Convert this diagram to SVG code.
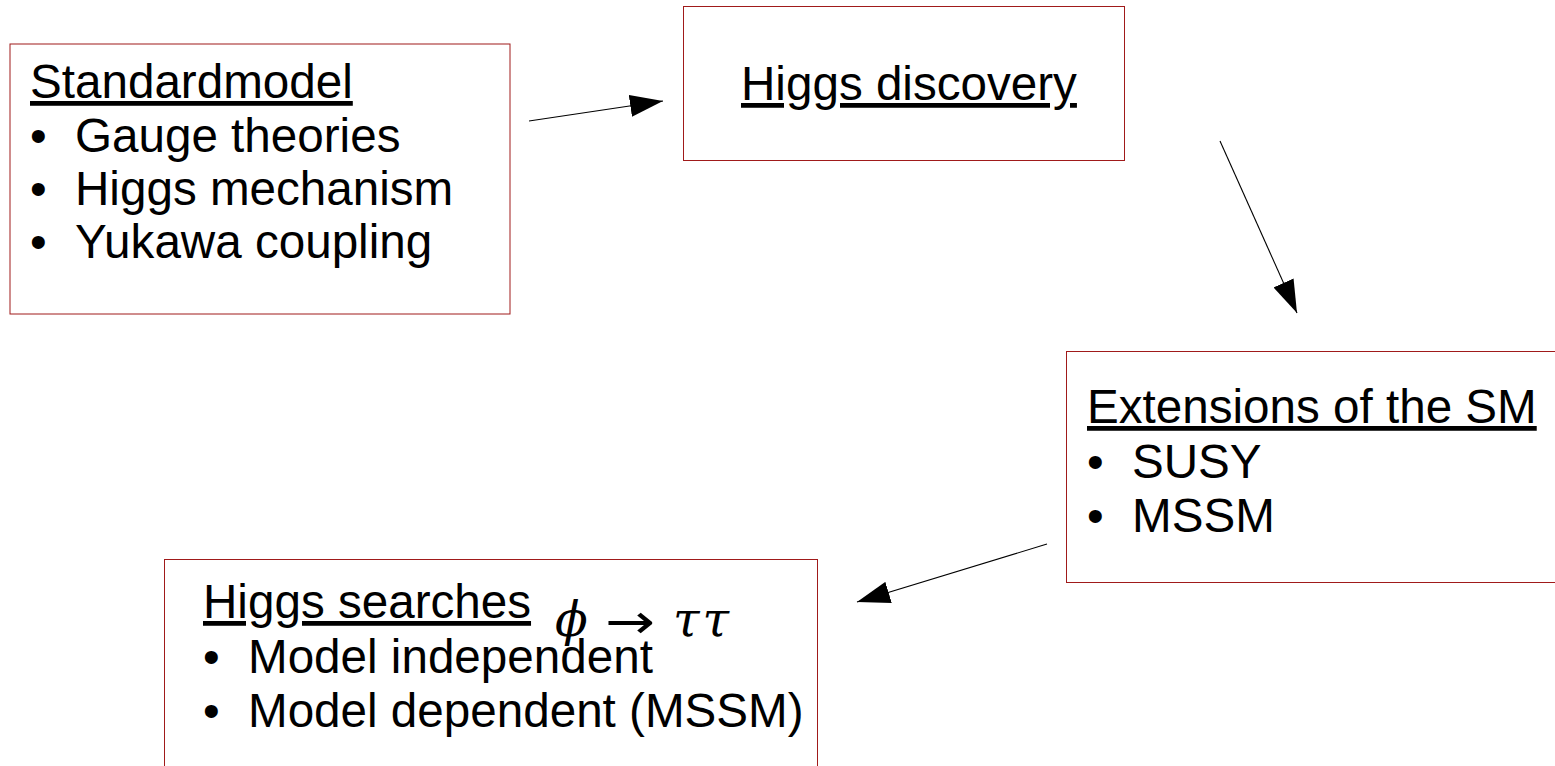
<svg xmlns="http://www.w3.org/2000/svg" width="1555" height="766" viewBox="0 0 1555 766">
<style>
.box{fill:#ffffff;stroke:#a01a1a;stroke-width:1}
.t{font-family:"Liberation Sans",Arial,sans-serif;font-size:47.6px;fill:#000}
.u{text-decoration:underline}
.m{font-family:"DejaVu Serif","Liberation Serif",serif;font-style:italic;font-size:48px;fill:#000}
.mr{font-family:"DejaVu Sans","Liberation Sans",sans-serif;font-size:48px;fill:#000}
.c{stroke:#000;stroke-width:1.1;fill:none;marker-end:url(#ah)}
</style>
<defs>
<marker id="ah" markerUnits="userSpaceOnUse" markerWidth="34" markerHeight="22" refX="33" refY="11" orient="auto">
<path d="M0,0 L33,11 L0,22 z" fill="#000"/>
</marker>
</defs>
<rect width="1555" height="766" fill="#ffffff"/>
<g id="standardmodel">
<rect class="box" x="10" y="44" width="500" height="270"/>
<text class="t u" x="30" y="98">Standardmodel</text>
<text class="t" x="30" y="152">•</text><text class="t" x="75" y="152">Gauge theories</text>
<text class="t" x="30" y="205">•</text><text class="t" x="75" y="205">Higgs mechanism</text>
<text class="t" x="30" y="258">•</text><text class="t" x="75" y="258">Yukawa coupling</text>
</g>
<g id="higgs-discovery">
<rect class="box" x="683.5" y="6.5" width="441" height="154"/>
<text class="t u" x="741" y="100">Higgs discovery</text>
</g>
<g id="extensions">
<rect class="box" x="1066.5" y="351.5" width="520" height="231"/>
<text class="t u" x="1087" y="423">Extensions of the SM</text>
<text class="t" x="1087" y="478">•</text><text class="t" x="1132" y="478">SUSY</text>
<text class="t" x="1087" y="532">•</text><text class="t" x="1132" y="532">MSSM</text>
</g>
<g id="higgs-searches">
<rect class="box" x="164.5" y="559.5" width="653" height="230"/>
<text class="t u" x="203" y="618">Higgs searches</text>
<text class="t" x="203" y="673">•</text><text class="t" x="248" y="673">Model independent</text>
<text class="t" x="203" y="727">•</text><text class="t" x="248" y="727">Model dependent (MSSM)</text>
<text class="m" x="555" y="636">ϕ</text>
<text class="mr" x="605" y="638" textLength="50" lengthAdjust="spacingAndGlyphs">→</text>
<text class="m" x="673" y="636" letter-spacing="3">ττ</text>
</g>
<g id="connectors">
<line class="c" x1="529" y1="121" x2="663" y2="101"/>
<line class="c" x1="1220" y1="141" x2="1297" y2="313"/>
<line class="c" x1="1047" y1="544" x2="857" y2="602"/>
</g>
</svg>
